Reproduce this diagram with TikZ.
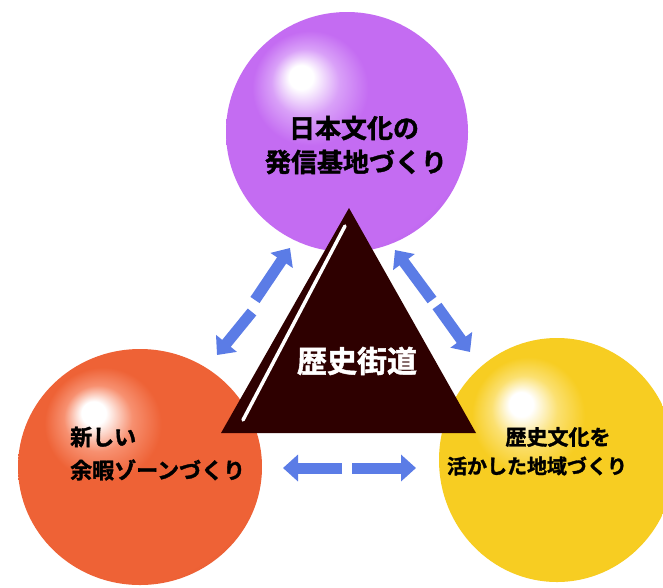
\documentclass[tikz,border=0pt]{standalone}
\usepackage{fontspec}
\newfontfamily\jp{Noto Sans CJK JP Bold}[FakeBold=1.6]
\usetikzlibrary{arrows.meta,shapes.geometric}
\definecolor{pur}{HTML}{C46CF2}
\definecolor{purd}{HTML}{A24FDA}
\definecolor{purl}{HTML}{D9A0F8}
\definecolor{ora}{HTML}{EE6236}
\definecolor{orad}{HTML}{DC5128}
\definecolor{oral}{HTML}{F79070}
\definecolor{yel}{HTML}{F7CD22}
\definecolor{yeld}{HTML}{EDB600}
\definecolor{yell}{HTML}{FBE070}
\definecolor{tri}{HTML}{2E0000}
\definecolor{arrowblue}{HTML}{5B7CE6}
\pgfdeclareradialshading{purball}{\pgfpoint{-10bp}{12bp}}{color(0bp)=(white); color(2.5bp)=(white); color(7bp)=(purl); color(12bp)=(pur); color(30bp)=(pur); color(38bp)=(purd); color(50bp)=(purd)}
\pgfdeclareradialshading{oraball}{\pgfpoint{-10bp}{12bp}}{color(0bp)=(white); color(2.5bp)=(white); color(7bp)=(oral); color(12bp)=(ora); color(30bp)=(ora); color(38bp)=(orad); color(50bp)=(orad)}
\pgfdeclareradialshading{yelball}{\pgfpoint{-8bp}{12bp}}{color(0bp)=(white); color(2.5bp)=(white); color(7bp)=(yell); color(12bp)=(yel); color(30bp)=(yel); color(38bp)=(yeld); color(50bp)=(yeld)}
\begin{document}
\begin{tikzpicture}[x=1pt,y=-1pt,
  sphere/.style={ellipse,inner sep=0pt},
  blockarrow/.style={line width=11pt,draw=arrowblue,-{Triangle[width=26pt,length=15pt]}},
  label/.style={font=\jp\fontsize{#1}{#1}\selectfont,inner sep=0pt,text=black}]
\useasboundingbox (0,0) rectangle (663,587);
\fill[white] (0,0) rectangle (663,587);
% spheres
\node[sphere,minimum width=242pt,minimum height=240pt,shading=purball] (culture) at (347,132) {};
\node[sphere,minimum width=244pt,minimum height=236pt,shading=oraball] (leisure) at (140,467) {};
\node[sphere,minimum width=236pt,minimum height=244pt,shading=yelball] (region) at (557,460) {};
% triangle
\coordinate (tA) at (349,208);
\coordinate (tB) at (221,433);
\coordinate (tC) at (476,433);
\fill[tri] (tA) -- (tB) -- (tC) -- cycle;
\coordinate (hlA) at (345,226);
\coordinate (hlB) at (243,420);
\draw[white,line width=3.5pt,line cap=round] (hlA) -- (hlB);
\node[font=\jp\fontsize{30}{30}\selectfont,text=white,inner sep=0pt] (road) at (357,361) {歴史街道};
% arrows
\coordinate (h1) at (283,468); \coordinate (h1m) at (342,468);
\coordinate (h2m) at (352,468); \coordinate (h2) at (416,468);
\draw[blockarrow] (h1m) -- (h1);
\draw[blockarrow] (h2m) -- (h2);
\coordinate (l1) at (290,248); \coordinate (l1m) at (255,300);
\coordinate (l2m) at (252,312); \coordinate (l2) at (217,355);
\draw[blockarrow] (l1m) -- (l1);
\draw[blockarrow] (l2m) -- (l2);
\coordinate (r1) at (395,250); \coordinate (r1m) at (432,300);
\coordinate (r2m) at (437,306); \coordinate (r2) at (470,352);
\draw[blockarrow] (r1m) -- (r1);
\draw[blockarrow] (r2m) -- (r2);
% labels
\node[label=26] (c1) at (354,128) {日本文化の};
\node[label=26] (c2) at (356,162) {発信基地づくり};
\node[label=22,anchor=west] (s1) at (70,437) {新しい};
\node[label=22,anchor=west] (s2) at (70,470) {余暇ゾーンづくり};
\node[label=21] (y1) at (558,437) {歴史文化を};
\node[label=20] (y2) at (537,466) {活かした地域づくり};
\end{tikzpicture}
\end{document}
